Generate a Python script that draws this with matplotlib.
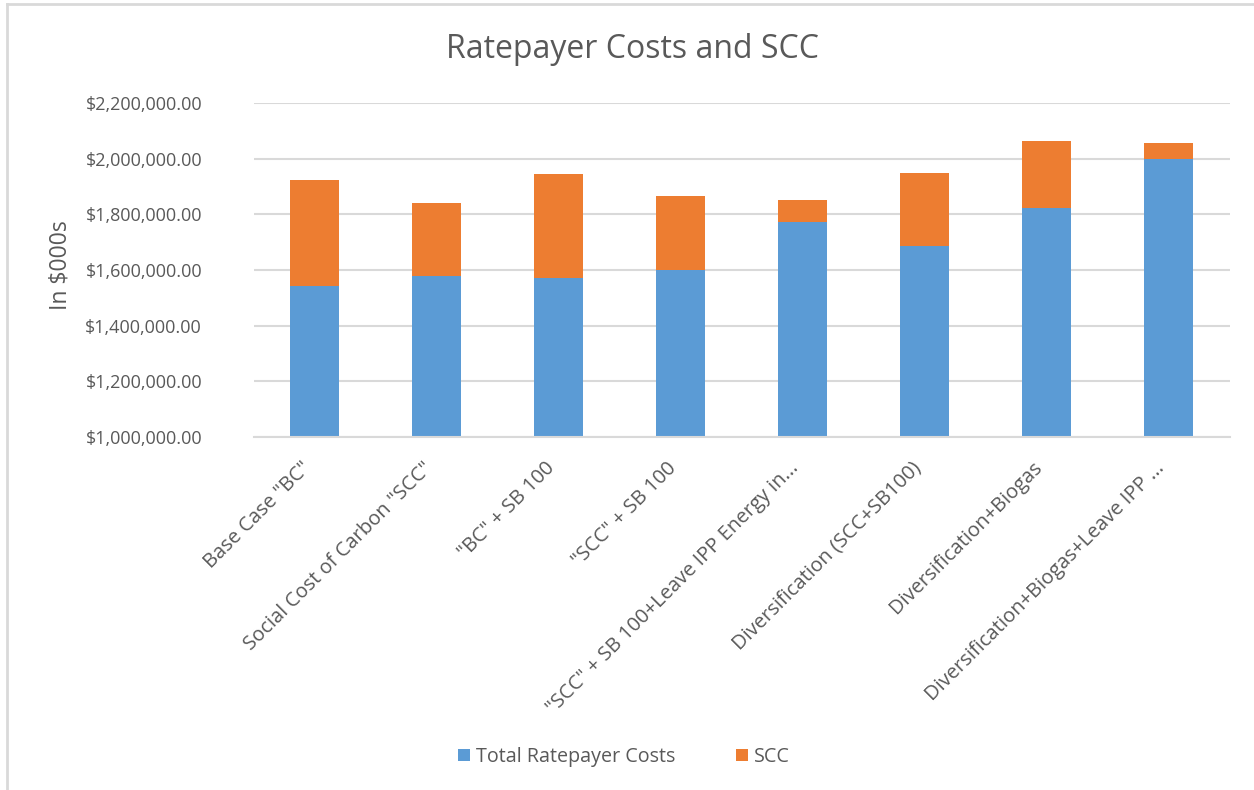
import numpy as np
import matplotlib
matplotlib.use('Agg')

import matplotlib.pyplot as plt
import matplotlib.transforms as mtransforms
from matplotlib.lines import Line2D
from matplotlib.ticker import FuncFormatter

plt.rcParams['font.family'] = ['Open Sans', 'DejaVu Sans']

scenarios = ['Base Case "BC"', 'Social Cost of Carbon "SCC"', '"BC" + SB 100',
             '"SCC" + SB 100', '"SCC" + SB 100+Leave IPP Energy in...',
             'Diversification (SCC+SB100)', 'Diversification+Biogas',
             'Diversification+Biogas+Leave IPP ...']
ratepayer = [1543000, 1577000, 1572000, 1600000, 1772000, 1685000, 1824000, 2000000]
scc = [379000, 262000, 374000, 267000, 80000, 265000, 241000, 55000]

blue = '#5b9bd5'
orange = '#ed7d31'
grey = '#595959'

def main():
    W, H = 1254, 790
    fig = plt.figure(figsize=(W / 100, H / 100), dpi=100)
    ax = fig.add_axes([253.5 / W, 1 - 437 / H, 976 / W, 334 / H])

    ind = np.arange(len(scenarios))
    width = 0.40
    p1 = ax.bar(ind, ratepayer, width, color=blue, zorder=3)
    p2 = ax.bar(ind, scc, width, bottom=ratepayer, color=orange, zorder=3)

    ax.set_xlim(-0.5, len(scenarios) - 0.5)
    ax.set_ylim(1000000, 2200000)
    ax.set_yticks(np.arange(1000000, 2200001, 200000))
    ax.yaxis.set_major_formatter(FuncFormatter(lambda v, p: '${:,.2f}'.format(v)))
    ax.grid(axis='y', color='#d9d9d9', lw=1.5, zorder=0)

    for s in ('top', 'right', 'left'):
        ax.spines[s].set_visible(False)
    ax.spines['bottom'].set_color('#d9d9d9')
    ax.spines['bottom'].set_linewidth(1.5)
    ax.spines['bottom'].set_zorder(4)
    ax.tick_params(length=0, colors=grey)
    ax.yaxis.set_tick_params(pad=19, labelsize=13)
    ax.xaxis.set_tick_params(pad=0, labelsize=14.5)

    ax.set_xticks(ind)
    ax.set_xticklabels(scenarios, rotation=45, ha='right', rotation_mode='anchor')
    # shift the slanted category labels a little down and left
    shift = mtransforms.ScaledTranslation(-14 / 100, -21 / 100, fig.dpi_scale_trans)
    for lbl in ax.get_xticklabels():
        lbl.set_transform(lbl.get_transform() + shift)
    # money labels sit further left of the plot
    yshift = mtransforms.ScaledTranslation(-25 / 100, 0, fig.dpi_scale_trans)
    for lbl in ax.get_yticklabels():
        lbl.set_transform(lbl.get_transform() + yshift)

    fig.text(60 / W, 1 - 265 / H, 'In $000s', rotation=90, ha='center', va='center',
             fontsize=16.5, color=grey)
    fig.text(632 / W, 1 - 50 / H, 'Ratepayer Costs and SCC', ha='center', va='center',
             fontsize=23, color=grey)

    fig.legend((p1[0], p2[0]), ('Total Ratepayer Costs', 'SCC'), loc='center',
               bbox_to_anchor=(624 / W, 1 - 757 / H), ncol=2, frameon=False,
               fontsize=14.2, labelcolor=grey, handlelength=0.6, handleheight=0.6,
               handletextpad=0.3, columnspacing=3.1)

    # thin frame on the top and left edge
    fig.add_artist(Line2D([7 / W, 7 / W], [0, 1 - 4 / H], color='#d9d9d9', lw=2))
    fig.add_artist(Line2D([7 / W, 1], [1 - 4 / H, 1 - 4 / H], color='#d9d9d9', lw=2))

    fig.savefig('out.png', dpi=100)

main()
